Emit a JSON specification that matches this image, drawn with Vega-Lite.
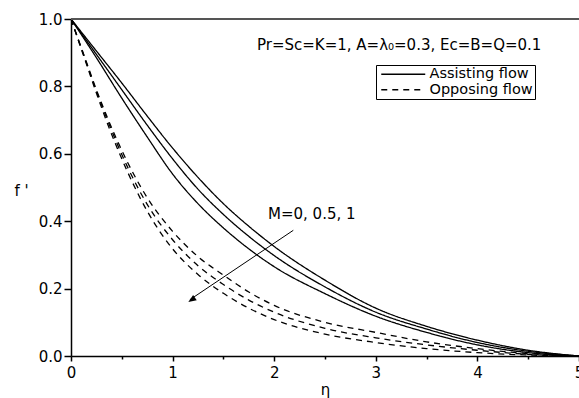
{
  "$schema": "https://vega.github.io/schema/vega-lite/v6.json",
  "width": 508,
  "height": 337,
  "autosize": "none",
  "padding": {"left": 71, "top": 19, "right": 0, "bottom": 42},
  "background": "white",
  "config": {
    "view": {"stroke": null},
    "font": "DejaVu Sans",
    "axis": {
      "grid": false,
      "domainColor": "black",
      "domainWidth": 1.5,
      "tickColor": "black",
      "tickWidth": 1.5,
      "labelColor": "black",
      "labelFont": "DejaVu Sans",
      "labelFontSize": 15,
      "titleFont": "DejaVu Sans",
      "titleFontSize": 15,
      "titleFontWeight": "normal",
      "titleColor": "black"
    },
    "legend": {
      "orient": "none",
      "legendX": 305,
      "legendY": 46,
      "strokeColor": "black",
      "strokeWidth": 1,
      "fillColor": "white",
      "padding": 2,
      "cornerRadius": 0,
      "symbolType": "M-7.33,0L7.33,0",
      "symbolSize": 36,
      "symbolOffset": 18,
      "symbolStrokeWidth": 1.3,
      "symbolStrokeColor": "black",
      "symbolFillColor": "transparent",
      "labelFont": "DejaVu Sans",
      "labelFontSize": 14.5,
      "labelColor": "black",
      "labelOffset": 19,
      "rowPadding": 0.5
    }
  },
  "datasets": {
    "curves": [
      {"eta": 0, "f": 1.0, "M": "0", "flow": "Assisting flow"},
      {"eta": 0.25, "f": 0.905, "M": "0", "flow": "Assisting flow"},
      {"eta": 0.5, "f": 0.81, "M": "0", "flow": "Assisting flow"},
      {"eta": 0.75, "f": 0.712, "M": "0", "flow": "Assisting flow"},
      {"eta": 1.0, "f": 0.617, "M": "0", "flow": "Assisting flow"},
      {"eta": 1.25, "f": 0.53, "M": "0", "flow": "Assisting flow"},
      {"eta": 1.5, "f": 0.452, "M": "0", "flow": "Assisting flow"},
      {"eta": 1.75, "f": 0.385, "M": "0", "flow": "Assisting flow"},
      {"eta": 2.0, "f": 0.325, "M": "0", "flow": "Assisting flow"},
      {"eta": 2.5, "f": 0.225, "M": "0", "flow": "Assisting flow"},
      {"eta": 3.0, "f": 0.142, "M": "0", "flow": "Assisting flow"},
      {"eta": 3.5, "f": 0.088, "M": "0", "flow": "Assisting flow"},
      {"eta": 4.0, "f": 0.047, "M": "0", "flow": "Assisting flow"},
      {"eta": 4.5, "f": 0.017, "M": "0", "flow": "Assisting flow"},
      {"eta": 5.0, "f": 0.0, "M": "0", "flow": "Assisting flow"},

      {"eta": 0, "f": 1.0, "M": "0.5", "flow": "Assisting flow"},
      {"eta": 0.25, "f": 0.895, "M": "0.5", "flow": "Assisting flow"},
      {"eta": 0.5, "f": 0.79, "M": "0.5", "flow": "Assisting flow"},
      {"eta": 0.75, "f": 0.685, "M": "0.5", "flow": "Assisting flow"},
      {"eta": 1.0, "f": 0.585, "M": "0.5", "flow": "Assisting flow"},
      {"eta": 1.25, "f": 0.495, "M": "0.5", "flow": "Assisting flow"},
      {"eta": 1.5, "f": 0.42, "M": "0.5", "flow": "Assisting flow"},
      {"eta": 1.75, "f": 0.355, "M": "0.5", "flow": "Assisting flow"},
      {"eta": 2.0, "f": 0.298, "M": "0.5", "flow": "Assisting flow"},
      {"eta": 2.5, "f": 0.205, "M": "0.5", "flow": "Assisting flow"},
      {"eta": 3.0, "f": 0.13, "M": "0.5", "flow": "Assisting flow"},
      {"eta": 3.5, "f": 0.08, "M": "0.5", "flow": "Assisting flow"},
      {"eta": 4.0, "f": 0.04, "M": "0.5", "flow": "Assisting flow"},
      {"eta": 4.5, "f": 0.014, "M": "0.5", "flow": "Assisting flow"},
      {"eta": 5.0, "f": 0.0, "M": "0.5", "flow": "Assisting flow"},

      {"eta": 0, "f": 1.0, "M": "1", "flow": "Assisting flow"},
      {"eta": 0.25, "f": 0.885, "M": "1", "flow": "Assisting flow"},
      {"eta": 0.5, "f": 0.765, "M": "1", "flow": "Assisting flow"},
      {"eta": 0.75, "f": 0.65, "M": "1", "flow": "Assisting flow"},
      {"eta": 1.0, "f": 0.54, "M": "1", "flow": "Assisting flow"},
      {"eta": 1.25, "f": 0.452, "M": "1", "flow": "Assisting flow"},
      {"eta": 1.5, "f": 0.38, "M": "1", "flow": "Assisting flow"},
      {"eta": 1.75, "f": 0.318, "M": "1", "flow": "Assisting flow"},
      {"eta": 2.0, "f": 0.265, "M": "1", "flow": "Assisting flow"},
      {"eta": 2.5, "f": 0.185, "M": "1", "flow": "Assisting flow"},
      {"eta": 3.0, "f": 0.118, "M": "1", "flow": "Assisting flow"},
      {"eta": 3.5, "f": 0.07, "M": "1", "flow": "Assisting flow"},
      {"eta": 4.0, "f": 0.033, "M": "1", "flow": "Assisting flow"},
      {"eta": 4.5, "f": 0.01, "M": "1", "flow": "Assisting flow"},
      {"eta": 5.0, "f": 0.0, "M": "1", "flow": "Assisting flow"},

      {"eta": 0, "f": 1.0, "M": "0", "flow": "Opposing flow"},
      {"eta": 0.125, "f": 0.895, "M": "0", "flow": "Opposing flow"},
      {"eta": 0.25, "f": 0.79, "M": "0", "flow": "Opposing flow"},
      {"eta": 0.375, "f": 0.695, "M": "0", "flow": "Opposing flow"},
      {"eta": 0.5, "f": 0.61, "M": "0", "flow": "Opposing flow"},
      {"eta": 0.75, "f": 0.47, "M": "0", "flow": "Opposing flow"},
      {"eta": 1.0, "f": 0.37, "M": "0", "flow": "Opposing flow"},
      {"eta": 1.25, "f": 0.295, "M": "0", "flow": "Opposing flow"},
      {"eta": 1.5, "f": 0.24, "M": "0", "flow": "Opposing flow"},
      {"eta": 1.75, "f": 0.19, "M": "0", "flow": "Opposing flow"},
      {"eta": 2.0, "f": 0.15, "M": "0", "flow": "Opposing flow"},
      {"eta": 2.5, "f": 0.1, "M": "0", "flow": "Opposing flow"},
      {"eta": 3.0, "f": 0.07, "M": "0", "flow": "Opposing flow"},
      {"eta": 3.5, "f": 0.042, "M": "0", "flow": "Opposing flow"},
      {"eta": 4.0, "f": 0.022, "M": "0", "flow": "Opposing flow"},
      {"eta": 4.5, "f": 0.007, "M": "0", "flow": "Opposing flow"},
      {"eta": 5.0, "f": 0.0, "M": "0", "flow": "Opposing flow"},

      {"eta": 0, "f": 1.0, "M": "0.5", "flow": "Opposing flow"},
      {"eta": 0.125, "f": 0.893, "M": "0.5", "flow": "Opposing flow"},
      {"eta": 0.25, "f": 0.786, "M": "0.5", "flow": "Opposing flow"},
      {"eta": 0.375, "f": 0.688, "M": "0.5", "flow": "Opposing flow"},
      {"eta": 0.5, "f": 0.598, "M": "0.5", "flow": "Opposing flow"},
      {"eta": 0.75, "f": 0.45, "M": "0.5", "flow": "Opposing flow"},
      {"eta": 1.0, "f": 0.345, "M": "0.5", "flow": "Opposing flow"},
      {"eta": 1.25, "f": 0.268, "M": "0.5", "flow": "Opposing flow"},
      {"eta": 1.5, "f": 0.212, "M": "0.5", "flow": "Opposing flow"},
      {"eta": 1.75, "f": 0.166, "M": "0.5", "flow": "Opposing flow"},
      {"eta": 2.0, "f": 0.13, "M": "0.5", "flow": "Opposing flow"},
      {"eta": 2.5, "f": 0.082, "M": "0.5", "flow": "Opposing flow"},
      {"eta": 3.0, "f": 0.054, "M": "0.5", "flow": "Opposing flow"},
      {"eta": 3.5, "f": 0.033, "M": "0.5", "flow": "Opposing flow"},
      {"eta": 4.0, "f": 0.017, "M": "0.5", "flow": "Opposing flow"},
      {"eta": 4.5, "f": 0.005, "M": "0.5", "flow": "Opposing flow"},
      {"eta": 5.0, "f": 0.0, "M": "0.5", "flow": "Opposing flow"},

      {"eta": 0, "f": 1.0, "M": "1", "flow": "Opposing flow"},
      {"eta": 0.125, "f": 0.89, "M": "1", "flow": "Opposing flow"},
      {"eta": 0.25, "f": 0.78, "M": "1", "flow": "Opposing flow"},
      {"eta": 0.375, "f": 0.677, "M": "1", "flow": "Opposing flow"},
      {"eta": 0.5, "f": 0.585, "M": "1", "flow": "Opposing flow"},
      {"eta": 0.75, "f": 0.43, "M": "1", "flow": "Opposing flow"},
      {"eta": 1.0, "f": 0.318, "M": "1", "flow": "Opposing flow"},
      {"eta": 1.25, "f": 0.242, "M": "1", "flow": "Opposing flow"},
      {"eta": 1.5, "f": 0.186, "M": "1", "flow": "Opposing flow"},
      {"eta": 1.75, "f": 0.142, "M": "1", "flow": "Opposing flow"},
      {"eta": 2.0, "f": 0.108, "M": "1", "flow": "Opposing flow"},
      {"eta": 2.5, "f": 0.065, "M": "1", "flow": "Opposing flow"},
      {"eta": 3.0, "f": 0.04, "M": "1", "flow": "Opposing flow"},
      {"eta": 3.5, "f": 0.022, "M": "1", "flow": "Opposing flow"},
      {"eta": 4.0, "f": 0.01, "M": "1", "flow": "Opposing flow"},
      {"eta": 4.5, "f": 0.003, "M": "1", "flow": "Opposing flow"},
      {"eta": 5.0, "f": 0.0, "M": "1", "flow": "Opposing flow"}
    ]
  },
  "layer": [
    {
      "data": {"name": "curves"},
      "mark": {"type": "line", "color": "black", "strokeWidth": 1.3, "interpolate": "monotone", "clip": true},
      "encoding": {
        "x": {
          "field": "eta", "type": "quantitative",
          "scale": {"domain": [0, 5], "nice": false, "zero": false},
          "axis": {
            "title": "η",
            "values": [0, 0.5, 1, 1.5, 2, 2.5, 3, 3.5, 4, 4.5, 5],
            "labelExpr": "round(datum.value*2) % 2 == 0 ? format(datum.value, 'd') : ''",
            "tickSize": {"condition": {"test": "round(datum.value*2) % 2 == 0", "value": 5}, "value": 3},
            "labelPadding": 4,
            "labelFlush": false,
            "labelOverlap": false,
            "titlePadding": 2
          }
        },
        "y": {
          "field": "f", "type": "quantitative",
          "scale": {"domain": [0, 1], "nice": false},
          "axis": {
            "title": "f '",
            "titleAngle": 0,
            "titleAlign": "center",
            "titleBaseline": "middle",
            "titleX": -50,
            "titleY": 171,
            "values": [0, 0.1, 0.2, 0.3, 0.4, 0.5, 0.6, 0.7, 0.8, 0.9, 1.0],
            "labelExpr": "round(datum.value*10) % 2 == 0 ? format(datum.value, '.1f') : ''",
            "tickSize": {"condition": {"test": "round(datum.value*10) % 2 == 0", "value": 7}, "value": 4},
            "labelPadding": 2,
            "labelFlush": false,
            "labelOverlap": false
          }
        },
        "detail": {"field": "M", "type": "nominal"},
        "strokeDash": {
          "field": "flow", "type": "nominal",
          "scale": {"domain": ["Assisting flow", "Opposing flow"], "range": [[1, 0], [6, 5]]},
          "legend": {"title": null}
        }
      }
    },
    {
      "data": {"values": [{"f": 1.0}]},
      "mark": {"type": "rule", "color": "#555555", "strokeWidth": 2},
      "encoding": {"y": {"field": "f", "type": "quantitative"}}
    },
    {
      "data": {"values": [{"eta": 2.188, "f": 0.373, "eta2": 1.17, "f2": 0.167}]},
      "mark": {"type": "rule", "color": "black", "strokeWidth": 1},
      "encoding": {
        "x": {"field": "eta", "type": "quantitative"},
        "y": {"field": "f", "type": "quantitative"},
        "x2": {"field": "eta2"},
        "y2": {"field": "f2"}
      }
    },
    {
      "data": {"values": [{"eta": 1.155, "f": 0.16}]},
      "mark": {"type": "point", "shape": "M0,0L-0.8,2L0.8,2Z", "filled": true, "color": "black", "size": 64, "angle": 235.7, "opacity": 1},
      "encoding": {
        "x": {"field": "eta", "type": "quantitative"},
        "y": {"field": "f", "type": "quantitative"}
      }
    },
    {
      "data": {"values": [{"eta": 2.37, "f": 0.406, "label": "M=0, 0.5, 1"}, {"eta": 3.23, "f": 0.907, "label": "Pr=Sc=K=1, A=λ₀=0.3, Ec=B=Q=0.1"}]},
      "mark": {"type": "text", "font": "DejaVu Sans", "fontSize": 15, "color": "black", "align": "center", "baseline": "alphabetic"},
      "encoding": {
        "x": {"field": "eta", "type": "quantitative"},
        "y": {"field": "f", "type": "quantitative"},
        "text": {"field": "label"}
      }
    }
  ]
}
